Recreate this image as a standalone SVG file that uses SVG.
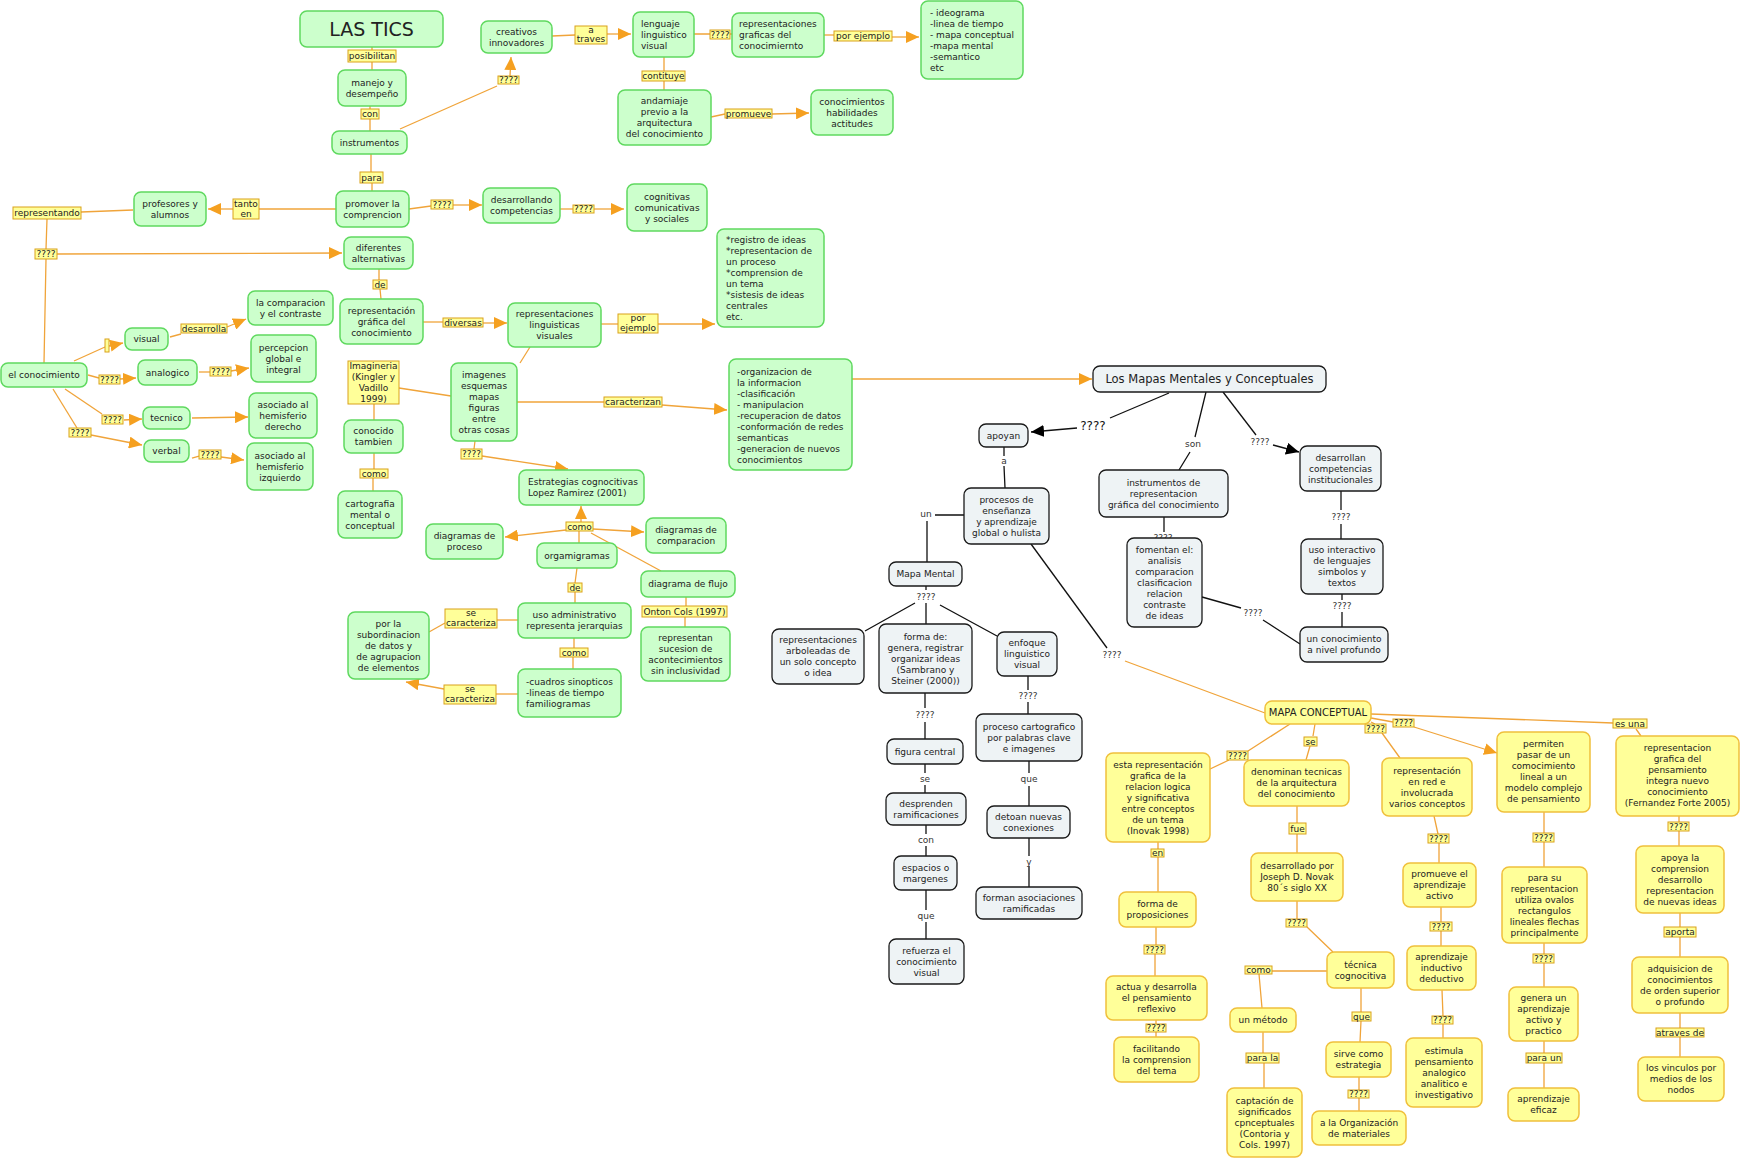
<svg xmlns="http://www.w3.org/2000/svg" width="1742" height="1159" viewBox="0 0 1742 1159">
<style>
.t{font-family:"DejaVu Sans",Verdana,sans-serif;font-size:9px;fill:#222;text-anchor:middle}
.tl{text-anchor:start}
.ng rect{fill:#ccffcc;stroke:#5fd95f;stroke-width:1.5}
.ny rect{fill:#ffff99;stroke:#f0c03c;stroke-width:1.5}
.nk rect{fill:#eef3f5;stroke:#1a1a1a;stroke-width:1.3}
.lb{fill:#ffff99;stroke:#d9a21b;stroke-width:1}
.o{stroke:#f0a43a;stroke-width:1.3;fill:none}
.oa{marker-end:url(#ao)}
.k{stroke:#111;stroke-width:1.3;fill:none}
.ka{marker-end:url(#ak)}
.kt{font-family:"DejaVu Sans",Verdana,sans-serif;font-size:9px;fill:#333;text-anchor:middle}
</style>
<defs>
<marker id="ao" markerUnits="userSpaceOnUse" markerWidth="14" markerHeight="12" refX="13" refY="6" orient="auto"><path d="M0,0 L13,6 L0,12 z" fill="#f5a020"/></marker>
<marker id="ak" markerUnits="userSpaceOnUse" markerWidth="14" markerHeight="12" refX="13" refY="6" orient="auto"><path d="M0,0 L13,6 L0,12 z" fill="#000"/></marker>
</defs>
<rect width="1742" height="1159" fill="#fff"/>

<g id="connectors">
<!-- left orange -->
<path class="o" d="M372,47V50M372,62V70"/>
<path class="o" d="M370,106V110M370,119V131"/>
<path class="o" d="M400,129L497,86"/>
<path class="o oa" d="M510,76L511,57"/>
<path class="o" d="M371,154V172M372,183V191"/>
<path class="o" d="M336,209H259"/>
<path class="o oa" d="M233,209H208"/>
<path class="o" d="M133,210L81,212"/>
<path class="o" d="M47,219L46,249M46,259L44,363"/>
<path class="o oa" d="M57,254L342,253"/>
<path class="o" d="M379,269V280M380,289L381,299"/>
<path class="o" d="M74,361L105,347"/>
<path class="o oa" d="M109,346L123,343"/>
<path class="o" d="M170,337L181,334"/>
<path class="o oa" d="M227,327L246,319"/>
<path class="o" d="M88,375L99,378"/>
<path class="o oa" d="M120,379L136,378"/>
<path class="o" d="M199,372H210"/>
<path class="o oa" d="M231,371L249,368"/>
<path class="o" d="M65,389L102,414"/>
<path class="o oa" d="M124,420L142,419"/>
<path class="o" d="M53,389L77,428"/>
<path class="o oa" d="M91,435L142,445"/>
<path class="o oa" d="M192,418L248,417"/>
<path class="o" d="M192,458L199,456"/>
<path class="o oa" d="M221,457L244,460"/>
<path class="o" d="M374,404V420"/>
<path class="o" d="M374,453V469M373,478V491"/>
<path class="o" d="M399,388L451,396"/>
<path class="o" d="M409,209L431,206"/>
<path class="o oa" d="M453,205H482"/>
<path class="o" d="M560,209H573"/>
<path class="o oa" d="M594,209H624"/>
<path class="o" d="M552,36L575,35"/>
<path class="o oa" d="M607,34H631"/>
<path class="o" d="M694,34H710M730,34H732"/>
<path class="o" d="M824,35H834"/>
<path class="o oa" d="M892,37H919"/>
<path class="o" d="M664,57V71M664,81V90"/>
<path class="o" d="M711,117L725,114"/>
<path class="o oa" d="M772,114L809,113"/>
<path class="o" d="M423,322H443"/>
<path class="o oa" d="M483,323H507"/>
<path class="o" d="M601,324H618"/>
<path class="o oa" d="M658,324H715"/>
<path class="o" d="M530,347L520,363"/>
<path class="o" d="M517,402H604"/>
<path class="o oa" d="M662,405L727,410"/>
<path class="o" d="M475,441L474,449"/>
<path class="o oa" d="M482,456L568,469"/>
<path class="o oa" d="M852,379H1092"/>
<path class="o oa" d="M581,522V506"/>
<path class="o oa" d="M566,530L505,537"/>
<path class="o oa" d="M593,529L644,532"/>
<path class="o" d="M591,533L661,571"/>
<path class="o" d="M579,531V543"/>
<path class="o" d="M577,568L575,583M575,592V603"/>
<path class="o" d="M686,597V606M685,617V627"/>
<path class="o" d="M518,620H497"/>
<path class="o" d="M445,623L429,632"/>
<path class="o" d="M574,638V648M573,657V669"/>
<path class="o" d="M518,694H496"/>
<path class="o oa" d="M444,689L406,682"/>
<!-- black -->
<path class="k" d="M1169,393L1110,418"/>
<path class="k ka" d="M1077,428L1031,432"/>
<text class="t" x="1093" y="430" style="font-size:12px;fill:#111">????</text>
<path class="k" d="M1004,447V456M1004,466L1005,488"/>
<text class="kt" x="1004" y="464">a</text>
<path class="k" d="M964,515H935M927,521V562"/>
<text class="kt" x="926" y="517">un</text>
<path class="k" d="M926,586V590"/>
<text class="kt" x="926" y="600">????</text>
<path class="k" d="M915,603L865,631M926,603V624M940,605L997,636"/>
<path class="k" d="M925,693V708M925,722V739"/>
<text class="kt" x="925" y="718">????</text>
<path class="k" d="M1028,676V690M1028,702V714"/>
<text class="kt" x="1028" y="699">????</text>
<path class="k" d="M925,764V773M925,785V793"/>
<text class="kt" x="925" y="782">se</text>
<path class="k" d="M926,825V834M926,846V856"/>
<text class="kt" x="926" y="843">con</text>
<path class="k" d="M926,890V910M926,922V939"/>
<text class="kt" x="926" y="919">que</text>
<path class="k" d="M1029,761V773M1029,786V806"/>
<text class="kt" x="1029" y="782">que</text>
<path class="k" d="M1029,838V856M1029,866V887"/>
<text class="kt" x="1029" y="865">y</text>
<path class="k" d="M1206,392L1195,437M1190,452L1179,470"/>
<text class="kt" x="1193" y="447">son</text>
<path class="k" d="M1223,392L1256,435"/>
<path class="k ka" d="M1273,445L1299,452"/>
<text class="kt" x="1260" y="445">????</text>
<path class="k" d="M1341,491V510M1341,524V539"/>
<text class="kt" x="1341" y="520">????</text>
<path class="k" d="M1342,594V600M1342,612V627"/>
<text class="kt" x="1342" y="609">????</text>
<path class="k" d="M1164,517V532"/>
<text class="kt" x="1163" y="541">????</text>
<path class="k" d="M1202,597L1241,608M1263,620L1300,644"/>
<text class="kt" x="1253" y="616">????</text>
<path class="k" d="M1031,544L1107,648"/>
<text class="kt" x="1112" y="658">????</text>
<path class="o" d="M1125,661L1265,713"/>
<!-- yellow section -->
<path class="o" d="M1290,724L1248,751M1229,760L1208,770"/>
<path class="o" d="M1315,724L1313,736M1310,746L1306,760"/>
<path class="o" d="M1371,722L1375,724M1382,733L1400,758"/>
<path class="o" d="M1371,718L1393,722"/>
<path class="o oa" d="M1414,727L1497,753"/>
<path class="o" d="M1371,714L1613,723M1636,729L1641,736"/>
<path class="o" d="M1158,842V849M1158,857V892"/>
<path class="o" d="M1156,927V945M1155,954V976"/>
<path class="o" d="M1156,1020V1024M1156,1032V1037"/>
<path class="o" d="M1297,806V823M1297,834V853"/>
<path class="o" d="M1297,901V919M1307,927L1333,952"/>
<path class="o" d="M1327,971H1272M1259,974L1262,1008"/>
<path class="o" d="M1263,1032V1053M1264,1063V1088"/>
<path class="o" d="M1361,988V1012M1361,1021L1360,1042"/>
<path class="o" d="M1359,1077V1090M1359,1098V1111"/>
<path class="o" d="M1434,816L1438,834M1439,843V863"/>
<path class="o" d="M1441,907V922M1441,931V946"/>
<path class="o" d="M1442,990L1443,1016M1443,1024V1038"/>
<path class="o" d="M1544,812V833M1544,842V867"/>
<path class="o" d="M1544,943V954M1544,963V987"/>
<path class="o" d="M1544,1041V1053M1544,1063V1088"/>
<path class="o" d="M1679,816V822M1679,831V846"/>
<path class="o" d="M1680,913V927M1680,937V957"/>
<path class="o" d="M1680,1013V1028M1680,1037V1057"/>
</g>

<g id="labels">
<rect class="lb" x="348" y="50" width="48" height="12"/><text class="t" x="372" y="59.2">posibilitan</text>
<rect class="lb" x="361" y="109" width="18" height="10"/><text class="t" x="370" y="117">con</text>
<rect class="lb" x="360" y="172" width="23" height="11"/><text class="t" x="371.5" y="180.7">para</text>
<rect class="lb" x="233" y="199" width="26" height="20"/><text class="t" x="246" y="206.7">tanto</text><text class="t" x="246" y="216.7">en</text>
<rect class="lb" x="13" y="207" width="68" height="12"/><text class="t" x="47" y="216.2">representando</text>
<rect class="lb" x="35" y="249" width="22" height="10"/><text class="t" x="46" y="257.2">????</text>
<rect class="lb" x="373" y="280" width="14" height="9"/><text class="t" x="380" y="287.7">de</text>
<rect class="lb" x="181" y="324" width="46" height="9"/><text class="t" x="204" y="331.7">desarrolla</text>
<rect class="lb" x="105" y="339" width="4" height="13"/>
<rect class="lb" x="99" y="375" width="21" height="9"/><text class="t" x="109.5" y="382.7">????</text>
<rect class="lb" x="210" y="367" width="21" height="9"/><text class="t" x="220.5" y="374.7">????</text>
<rect class="lb" x="102" y="415" width="21" height="9"/><text class="t" x="112.5" y="422.7">????</text>
<rect class="lb" x="69" y="428" width="22" height="9"/><text class="t" x="80" y="435.7">????</text>
<rect class="lb" x="199" y="450" width="22" height="9"/><text class="t" x="210" y="457.7">????</text>
<rect class="lb" x="360" y="469" width="28" height="9"/><text class="t" x="374" y="476.7">como</text>
<rect class="lb" x="498" y="76" width="21" height="8"/><text class="t" x="508.5" y="83.2">????</text>
<rect class="lb" x="575" y="26" width="32" height="18"/><text class="t" x="591" y="32.7">a</text><text class="t" x="591" y="42.2">traves</text>
<rect class="lb" x="710" y="30" width="20" height="9"/><text class="t" x="720" y="37.7">????</text>
<rect class="lb" x="834" y="31" width="58" height="10"/><text class="t" x="863" y="39.2">por ejemplo</text>
<rect class="lb" x="642" y="71" width="43" height="10"/><text class="t" x="663.5" y="79.2">contituye</text>
<rect class="lb" x="725" y="109" width="47" height="9"/><text class="t" x="748.5" y="116.7">promueve</text>
<rect class="lb" x="431" y="200" width="22" height="9"/><text class="t" x="442" y="207.7">????</text>
<rect class="lb" x="573" y="205" width="21" height="8"/><text class="t" x="583.5" y="212.2">????</text>
<rect class="lb" x="443" y="318" width="40" height="9"/><text class="t" x="463" y="325.7">diversas</text>
<rect class="lb" x="618" y="314" width="40" height="19"/><text class="t" x="638" y="320.7">por</text><text class="t" x="638" y="331">ejemplo</text>
<rect class="lb" x="604" y="397" width="58" height="10"/><text class="t" x="633" y="405.2">caracterizan</text>
<rect class="lb" x="461" y="449" width="21" height="10"/><text class="t" x="471.5" y="457.2">????</text>
<rect class="lb" x="566" y="522" width="27" height="9"/><text class="t" x="579.5" y="529.7">como</text>
<rect class="lb" x="568" y="583" width="14" height="9"/><text class="t" x="575" y="590.7">de</text>
<rect class="lb" x="642" y="606" width="85" height="11"/><text class="t" x="684.5" y="614.7">Onton Cols (1997)</text>
<rect class="lb" x="445" y="609" width="52" height="19"/><text class="t" x="471" y="616">se</text><text class="t" x="471" y="626">caracteriza</text>
<rect class="lb" x="560" y="648" width="28" height="9"/><text class="t" x="574" y="655.7">como</text>
<rect class="lb" x="444" y="685" width="52" height="19"/><text class="t" x="470" y="692">se</text><text class="t" x="470" y="702">caracteriza</text>
<rect class="lb" x="1227" y="751" width="21" height="9"/><text class="t" x="1237.5" y="758.7">????</text>
<rect class="lb" x="1304" y="737" width="13" height="9"/><text class="t" x="1310.5" y="744.7">se</text>
<rect class="lb" x="1365" y="724" width="21" height="9"/><text class="t" x="1375.5" y="731.7">????</text>
<rect class="lb" x="1393" y="719" width="21" height="8"/><text class="t" x="1403.5" y="726.2">????</text>
<rect class="lb" x="1613" y="719" width="34" height="9"/><text class="t" x="1630" y="726.7">es una</text>
<rect class="lb" x="1151" y="849" width="13" height="8"/><text class="t" x="1157.5" y="856.2">en</text>
<rect class="lb" x="1144" y="945" width="21" height="9"/><text class="t" x="1154.5" y="952.7">????</text>
<rect class="lb" x="1146" y="1024" width="20" height="8"/><text class="t" x="1156" y="1031.2">????</text>
<rect class="lb" x="1289" y="823" width="17" height="11"/><text class="t" x="1297.5" y="831.7">fue</text>
<rect class="lb" x="1286" y="919" width="21" height="8"/><text class="t" x="1296.5" y="926.2">????</text>
<rect class="lb" x="1245" y="966" width="27" height="8"/><text class="t" x="1258.5" y="973.2">como</text>
<rect class="lb" x="1246" y="1053" width="33" height="10"/><text class="t" x="1262.5" y="1061.2">para la</text>
<rect class="lb" x="1352" y="1012" width="19" height="9"/><text class="t" x="1361.5" y="1019.7">que</text>
<rect class="lb" x="1348" y="1090" width="21" height="8"/><text class="t" x="1358.5" y="1097.2">????</text>
<rect class="lb" x="1428" y="834" width="21" height="9"/><text class="t" x="1438.5" y="841.7">????</text>
<rect class="lb" x="1430" y="922" width="22" height="9"/><text class="t" x="1441" y="929.7">????</text>
<rect class="lb" x="1432" y="1016" width="21" height="8"/><text class="t" x="1442.5" y="1023.2">????</text>
<rect class="lb" x="1533" y="833" width="21" height="9"/><text class="t" x="1543.5" y="840.7">????</text>
<rect class="lb" x="1533" y="954" width="21" height="9"/><text class="t" x="1543.5" y="961.7">????</text>
<rect class="lb" x="1526" y="1053" width="36" height="10"/><text class="t" x="1544" y="1061.2">para un</text>
<rect class="lb" x="1668" y="822" width="21" height="9"/><text class="t" x="1678.5" y="829.7">????</text>
<rect class="lb" x="1664" y="927" width="32" height="10"/><text class="t" x="1680" y="935.2">aporta</text>
<rect class="lb" x="1656" y="1028" width="48" height="9"/><text class="t" x="1680" y="1035.7">atraves de</text>
</g>

<g id="n-lastics" class="ng"><rect x="300" y="11" width="143" height="36" rx="7"/><text class="t" x="371.5" y="36" style="font-size:19px">LAS TICS</text></g>
<g id="n-manejo" class="ng"><rect x="338" y="70" width="68" height="36" rx="7"/><text class="t" x="372"><tspan x="372" y="85.7">manejo y</tspan><tspan x="372" y="96.7">desempeño</tspan></text></g>
<g id="n-instrumentos" class="ng"><rect x="332" y="131" width="75" height="23" rx="7"/><text class="t" x="369.5" y="145.7">instrumentos</text></g>
<g id="n-promover" class="ng"><rect x="336" y="191" width="73" height="36" rx="7"/><text class="t"><tspan x="372.5" y="206.7">promover la</tspan><tspan x="372.5" y="217.7">comprencion</tspan></text></g>
<g id="n-profesores" class="ng"><rect x="134" y="192" width="72" height="34" rx="7"/><text class="t"><tspan x="170" y="206.7">profesores y</tspan><tspan x="170" y="217.7">alumnos</tspan></text></g>
<g id="n-diferentes" class="ng"><rect x="344" y="237" width="69" height="32" rx="7"/><text class="t"><tspan x="378.5" y="250.7">diferentes</tspan><tspan x="378.5" y="261.7">alternativas</tspan></text></g>
<g id="n-repgraf" class="ng"><rect x="340" y="299" width="83" height="45" rx="7"/><text class="t"><tspan x="381.5" y="313.7">representación</tspan><tspan x="381.5" y="324.7">gráfica del</tspan><tspan x="381.5" y="335.7">conocimiento</tspan></text></g>
<g id="n-comparacion" class="ng"><rect x="248" y="291" width="85" height="34" rx="7"/><text class="t"><tspan x="290.5" y="305.7">la comparacion</tspan><tspan x="290.5" y="316.7">y el contraste</tspan></text></g>
<g id="n-visual" class="ng"><rect x="125" y="328" width="43" height="22" rx="7"/><text class="t" x="146.5" y="342.2">visual</text></g>
<g id="n-elcon" class="ng"><rect x="1" y="363" width="86" height="24" rx="7"/><text class="t" x="44" y="378.2">el conocimiento</text></g>
<g id="n-analogico" class="ng"><rect x="138" y="360" width="59" height="25" rx="7"/><text class="t" x="167.5" y="375.7">analogico</text></g>
<g id="n-percepcion" class="ng"><rect x="251" y="335" width="65" height="47" rx="7"/><text class="t"><tspan x="283.5" y="350.7">percepcion</tspan><tspan x="283.5" y="361.7">global e</tspan><tspan x="283.5" y="372.7">integral</tspan></text></g>
<g id="n-tecnico" class="ng"><rect x="143" y="407" width="47" height="22" rx="7"/><text class="t" x="166.5" y="421.2">tecnico</text></g>
<g id="n-derecho" class="ng"><rect x="249" y="393" width="68" height="45" rx="7"/><text class="t"><tspan x="283" y="407.7">asociado al</tspan><tspan x="283" y="418.7">hemisferio</tspan><tspan x="283" y="429.7">derecho</tspan></text></g>
<g id="n-verbal" class="ng"><rect x="144" y="440" width="45" height="22" rx="7"/><text class="t" x="166.5" y="454.2">verbal</text></g>
<g id="n-izquierdo" class="ng"><rect x="247" y="443" width="66" height="47" rx="7"/><text class="t"><tspan x="280" y="458.7">asociado al</tspan><tspan x="280" y="469.7">hemisferio</tspan><tspan x="280" y="480.7">izquierdo</tspan></text></g>
<g id="n-imagineria"><rect x="348" y="361" width="51" height="43" fill="#ffff99" stroke="#d9a21b" stroke-width="1"/><text class="t"><tspan x="373.5" y="369.2">Imagineria</tspan><tspan x="373.5" y="380.2">(Kingler y</tspan><tspan x="373.5" y="391.2">Vadillo</tspan><tspan x="373.5" y="402.2">1999)</tspan></text></g>
<g id="n-conocido" class="ng"><rect x="344" y="420" width="59" height="33" rx="7"/><text class="t"><tspan x="373.5" y="434.2">conocido</tspan><tspan x="373.5" y="445.2">tambien</tspan></text></g>
<g id="n-cartografia" class="ng"><rect x="338" y="491" width="64" height="47" rx="7"/><text class="t"><tspan x="370" y="506.7">cartografia</tspan><tspan x="370" y="517.7">mental o</tspan><tspan x="370" y="528.7">conceptual</tspan></text></g>
<g id="n-creativos" class="ng"><rect x="481" y="21" width="71" height="32" rx="7"/><text class="t"><tspan x="516.5" y="34.7">creativos</tspan><tspan x="516.5" y="45.7">innovadores</tspan></text></g>
<g id="n-lenguaje" class="ng"><rect x="633" y="12" width="61" height="45" rx="7"/><text class="t tl"><tspan x="641" y="26.7">lenguaje</tspan><tspan x="641" y="37.7">linguistico</tspan><tspan x="641" y="48.7">visual</tspan></text></g>
<g id="n-repgraficas" class="ng"><rect x="732" y="13" width="92" height="44" rx="7"/><text class="t tl"><tspan x="739" y="27.2">representaciones</tspan><tspan x="739" y="38.2">graficas del</tspan><tspan x="739" y="49.2">conocimiernto</tspan></text></g>
<g id="n-ideograma" class="ng"><rect x="921" y="1" width="102" height="78" rx="7"/><text class="t tl"><tspan x="930" y="16">- ideograma</tspan><tspan x="930" y="27">-linea de tiempo</tspan><tspan x="930" y="38">- mapa conceptual</tspan><tspan x="930" y="49">-mapa mental</tspan><tspan x="930" y="60">-semantico</tspan><tspan x="930" y="71">etc</tspan></text></g>
<g id="n-andamiaje" class="ng"><rect x="618" y="90" width="93" height="55" rx="7"/><text class="t"><tspan x="664.5" y="104.2">andamiaje</tspan><tspan x="664.5" y="115.2">previo a la</tspan><tspan x="664.5" y="126.2">arquitectura</tspan><tspan x="664.5" y="137.2">del conocimiento</tspan></text></g>
<g id="n-conhab" class="ng"><rect x="811" y="90" width="82" height="45" rx="7"/><text class="t"><tspan x="852" y="104.7">conocimientos</tspan><tspan x="852" y="115.7">habilidades</tspan><tspan x="852" y="126.7">actitudes</tspan></text></g>
<g id="n-desarrollando" class="ng"><rect x="483" y="188" width="77" height="35" rx="7"/><text class="t"><tspan x="521.5" y="203.2">desarrollando</tspan><tspan x="521.5" y="214.2">competencias</tspan></text></g>
<g id="n-cognitivas" class="ng"><rect x="627" y="184" width="80" height="47" rx="7"/><text class="t"><tspan x="667" y="199.7">cognitivas</tspan><tspan x="667" y="210.7">comunicativas</tspan><tspan x="667" y="221.7">y sociales</tspan></text></g>
<g id="n-registro" class="ng"><rect x="717" y="229" width="107" height="98" rx="7"/><text class="t tl"><tspan x="726" y="242.5">*registro de ideas</tspan><tspan x="726" y="253.5">*representacion de</tspan><tspan x="726" y="264.5">un  proceso</tspan><tspan x="726" y="275.5">*comprension de</tspan><tspan x="726" y="286.5">un tema</tspan><tspan x="726" y="297.5">*sistesis de ideas</tspan><tspan x="726" y="308.5">centrales</tspan><tspan x="726" y="319.5">etc.</tspan></text></g>
<g id="n-replinguisticas" class="ng"><rect x="508" y="303" width="93" height="44" rx="7"/><text class="t"><tspan x="554.5" y="317.2">representaciones</tspan><tspan x="554.5" y="328.2">linguisticas</tspan><tspan x="554.5" y="339.2">visuales</tspan></text></g>
<g id="n-imagenes" class="ng"><rect x="451" y="363" width="66" height="78" rx="7"/><text class="t"><tspan x="484" y="377.5">imagenes</tspan><tspan x="484" y="388.5">esquemas</tspan><tspan x="484" y="399.5">mapas</tspan><tspan x="484" y="410.5">figuras</tspan><tspan x="484" y="421.5">entre</tspan><tspan x="484" y="432.5">otras cosas</tspan></text></g>
<g id="n-organizacion" class="ng"><rect x="729" y="359" width="123" height="111" rx="7"/><text class="t tl"><tspan x="737" y="375">-organizacion de</tspan><tspan x="737" y="386">la informacion</tspan><tspan x="737" y="397">-clasificación</tspan><tspan x="737" y="408">- manipulacion</tspan><tspan x="737" y="419">-recuperacion de datos</tspan><tspan x="737" y="430">-conformación de redes</tspan><tspan x="737" y="441">semanticas</tspan><tspan x="737" y="452">-generacion de nuevos</tspan><tspan x="737" y="463">conocimientos</tspan></text></g>
<g id="n-estrategias" class="ng"><rect x="519" y="470" width="125" height="35" rx="7"/><text class="t tl"><tspan x="528" y="485.2">Estrategias cognocitivas</tspan><tspan x="528" y="496.2">Lopez Ramirez (2001)</tspan></text></g>
<g id="n-dproceso" class="ng"><rect x="426" y="524" width="77" height="35" rx="7"/><text class="t"><tspan x="464.5" y="539.2">diagramas de</tspan><tspan x="464.5" y="550.2">proceso</tspan></text></g>
<g id="n-organigramas" class="ng"><rect x="537" y="543" width="80" height="25" rx="7"/><text class="t" x="577" y="558.7">orgamigramas</text></g>
<g id="n-dcomparacion" class="ng"><rect x="646" y="518" width="80" height="35" rx="7"/><text class="t"><tspan x="686" y="533.2">diagramas de</tspan><tspan x="686" y="544.2">comparacion</tspan></text></g>
<g id="n-dflujo" class="ng"><rect x="641" y="571" width="94" height="26" rx="7"/><text class="t" x="688" y="587.2">diagrama de flujo</text></g>
<g id="n-usoadmin" class="ng"><rect x="518" y="603" width="113" height="35" rx="7"/><text class="t"><tspan x="574.5" y="618.2">uso administrativo</tspan><tspan x="574.5" y="629.2">representa jerarquias</tspan></text></g>
<g id="n-sucesion" class="ng"><rect x="641" y="627" width="89" height="54" rx="7"/><text class="t"><tspan x="685.5" y="640.7">representan</tspan><tspan x="685.5" y="651.7">sucesion de</tspan><tspan x="685.5" y="662.7">acontecimientos</tspan><tspan x="685.5" y="673.7">sin inclusividad</tspan></text></g>
<g id="n-subordinacion" class="ng"><rect x="348" y="612" width="81" height="67" rx="7"/><text class="t"><tspan x="388.5" y="626.7">por la</tspan><tspan x="388.5" y="637.7">subordinacion</tspan><tspan x="388.5" y="648.7">de datos y</tspan><tspan x="388.5" y="659.7">de agrupacion</tspan><tspan x="388.5" y="670.7">de elementos</tspan></text></g>
<g id="n-cuadros" class="ng"><rect x="518" y="669" width="103" height="48" rx="7"/><text class="t tl"><tspan x="526" y="685.2">-cuadros sinopticos</tspan><tspan x="526" y="696.2">-lineas de tiempo</tspan><tspan x="526" y="707.2">familiogramas</tspan></text></g>

<g id="n-losmapas" class="nk"><rect x="1093" y="366" width="233" height="26" rx="7"/><text class="t" x="1209.5" y="383" style="font-size:11.5px">Los Mapas Mentales y Conceptuales</text></g>
<g id="n-apoyan" class="nk"><rect x="979" y="424" width="49" height="23" rx="7"/><text class="t" x="1003.5" y="438.7">apoyan</text></g>
<g id="n-procesos" class="nk"><rect x="964" y="488" width="85" height="56" rx="7"/><text class="t"><tspan x="1006.5" y="502.7">procesos de</tspan><tspan x="1006.5" y="513.7">enseñanza</tspan><tspan x="1006.5" y="524.7">y aprendizaje</tspan><tspan x="1006.5" y="535.7">global o hulista</tspan></text></g>
<g id="n-mapamental" class="nk"><rect x="889" y="562" width="73" height="24" rx="7"/><text class="t" x="925.5" y="577.2">Mapa Mental</text></g>
<g id="n-arboleadas" class="nk"><rect x="772" y="629" width="92" height="55" rx="7"/><text class="t"><tspan x="818" y="643.2">representaciones</tspan><tspan x="818" y="654.2">arboleadas de</tspan><tspan x="818" y="665.2">un solo concepto</tspan><tspan x="818" y="676.2">o idea</tspan></text></g>
<g id="n-formade" class="nk"><rect x="879" y="624" width="93" height="69" rx="7"/><text class="t"><tspan x="925.5" y="639.7">forma de:</tspan><tspan x="925.5" y="650.7">genera, registrar</tspan><tspan x="925.5" y="661.7">organizar ideas</tspan><tspan x="925.5" y="672.7">(Sambrano y</tspan><tspan x="925.5" y="683.7">Steiner (2000))</tspan></text></g>
<g id="n-enfoque" class="nk"><rect x="997" y="632" width="60" height="44" rx="7"/><text class="t"><tspan x="1027" y="646.2">enfoque</tspan><tspan x="1027" y="657.2">linguistico</tspan><tspan x="1027" y="668.2">visual</tspan></text></g>
<g id="n-figura" class="nk"><rect x="887" y="739" width="76" height="25" rx="7"/><text class="t" x="925" y="754.7">figura central</text></g>
<g id="n-cartografico" class="nk"><rect x="976" y="714" width="106" height="47" rx="7"/><text class="t"><tspan x="1029" y="729.7">proceso cartografico</tspan><tspan x="1029" y="740.7">por palabras clave</tspan><tspan x="1029" y="751.7">e imagenes</tspan></text></g>
<g id="n-desprenden" class="nk"><rect x="886" y="793" width="80" height="32" rx="7"/><text class="t"><tspan x="926" y="806.7">desprenden</tspan><tspan x="926" y="817.7">ramificaciones</tspan></text></g>
<g id="n-espacios" class="nk"><rect x="894" y="856" width="63" height="34" rx="7"/><text class="t"><tspan x="925.5" y="870.7">espacios o</tspan><tspan x="925.5" y="881.7">margenes</tspan></text></g>
<g id="n-refuerza" class="nk"><rect x="889" y="939" width="75" height="45" rx="7"/><text class="t"><tspan x="926.5" y="953.7">refuerza el</tspan><tspan x="926.5" y="964.7">conocimiento</tspan><tspan x="926.5" y="975.7">visual</tspan></text></g>
<g id="n-detoan" class="nk"><rect x="987" y="806" width="83" height="32" rx="7"/><text class="t"><tspan x="1028.5" y="819.7">detoan nuevas</tspan><tspan x="1028.5" y="830.7">conexiones</tspan></text></g>
<g id="n-forman" class="nk"><rect x="976" y="887" width="106" height="32" rx="7"/><text class="t"><tspan x="1029" y="900.7">forman asociaciones</tspan><tspan x="1029" y="911.7">ramificadas</tspan></text></g>
<g id="n-instrep" class="nk"><rect x="1099" y="470" width="129" height="47" rx="7"/><text class="t"><tspan x="1163.5" y="485.7">instrumentos de</tspan><tspan x="1163.5" y="496.7">representacion</tspan><tspan x="1163.5" y="507.7">gráfica del conocimiento</tspan></text></g>
<g id="n-fomentan" class="nk"><rect x="1127" y="538" width="75" height="89" rx="7"/><text class="t"><tspan x="1164.5" y="552.7">fomentan el:</tspan><tspan x="1164.5" y="563.7">analisis</tspan><tspan x="1164.5" y="574.7">comparacion</tspan><tspan x="1164.5" y="585.7">clasificacion</tspan><tspan x="1164.5" y="596.7">relacion</tspan><tspan x="1164.5" y="607.7">contraste</tspan><tspan x="1164.5" y="618.7">de ideas</tspan></text></g>
<g id="n-desarrollan" class="nk"><rect x="1300" y="446" width="81" height="45" rx="7"/><text class="t"><tspan x="1340.5" y="460.7">desarrollan</tspan><tspan x="1340.5" y="471.7">competencias</tspan><tspan x="1340.5" y="482.7">institucionales</tspan></text></g>
<g id="n-usointer" class="nk"><rect x="1301" y="539" width="82" height="55" rx="7"/><text class="t"><tspan x="1342" y="553.2">uso interactivo</tspan><tspan x="1342" y="564.2">de lenguajes</tspan><tspan x="1342" y="575.2">simbolos y</tspan><tspan x="1342" y="586.2">textos</tspan></text></g>
<g id="n-unconoc" class="nk"><rect x="1300" y="627" width="88" height="35" rx="7"/><text class="t"><tspan x="1344" y="642.2">un conocimiento</tspan><tspan x="1344" y="653.2">a nivel profundo</tspan></text></g>

<g id="n-mapaconc" class="ny"><rect x="1265" y="701" width="106" height="23" rx="7"/><text class="t" x="1318" y="716" style="font-size:10px">MAPA CONCEPTUAL</text></g>
<g id="n-esta" class="ny"><rect x="1106" y="753" width="104" height="89" rx="7"/><text class="t"><tspan x="1158" y="767.7">esta representación</tspan><tspan x="1158" y="778.7">grafica de la</tspan><tspan x="1158" y="789.7">relacion logica</tspan><tspan x="1158" y="800.7">y significativa</tspan><tspan x="1158" y="811.7">entre conceptos</tspan><tspan x="1158" y="822.7">de un tema</tspan><tspan x="1158" y="833.7">(Inovak 1998)</tspan></text></g>
<g id="n-denominan" class="ny"><rect x="1244" y="760" width="105" height="46" rx="7"/><text class="t"><tspan x="1296.5" y="775.2">denominan tecnicas</tspan><tspan x="1296.5" y="786.2">de la arquitectura</tspan><tspan x="1296.5" y="797.2">del conocimiento</tspan></text></g>
<g id="n-fproposiciones" class="ny"><rect x="1119" y="892" width="77" height="35" rx="7"/><text class="t"><tspan x="1157.5" y="907.2">forma de</tspan><tspan x="1157.5" y="918.2">proposiciones</tspan></text></g>
<g id="n-actua" class="ny"><rect x="1106" y="976" width="101" height="44" rx="7"/><text class="t"><tspan x="1156.5" y="990.2">actua y desarrolla</tspan><tspan x="1156.5" y="1001.2">el pensamiento</tspan><tspan x="1156.5" y="1012.2">reflexivo</tspan></text></g>
<g id="n-facilitando" class="ny"><rect x="1114" y="1037" width="85" height="45" rx="7"/><text class="t"><tspan x="1156.5" y="1051.7">facilitando</tspan><tspan x="1156.5" y="1062.7">la comprension</tspan><tspan x="1156.5" y="1073.7">del tema</tspan></text></g>
<g id="n-desarrollado" class="ny"><rect x="1251" y="853" width="92" height="48" rx="7"/><text class="t"><tspan x="1297" y="869.2">desarrollado por</tspan><tspan x="1297" y="880.2">Joseph D. Novak</tspan><tspan x="1297" y="891.2">80´s siglo XX</tspan></text></g>
<g id="n-tecnica" class="ny"><rect x="1327" y="952" width="67" height="36" rx="7"/><text class="t"><tspan x="1360.5" y="967.7">técnica</tspan><tspan x="1360.5" y="978.7">cognocitiva</tspan></text></g>
<g id="n-unmetodo" class="ny"><rect x="1230" y="1008" width="66" height="24" rx="7"/><text class="t" x="1263" y="1023.2">un método</text></g>
<g id="n-captacion" class="ny"><rect x="1227" y="1088" width="75" height="69" rx="7"/><text class="t"><tspan x="1264.5" y="1103.7">captación de</tspan><tspan x="1264.5" y="1114.7">significados</tspan><tspan x="1264.5" y="1125.7">cpnceptuales</tspan><tspan x="1264.5" y="1136.7">(Contoria y</tspan><tspan x="1264.5" y="1147.7">Cols. 1997)</tspan></text></g>
<g id="n-sirve" class="ny"><rect x="1326" y="1042" width="65" height="35" rx="7"/><text class="t"><tspan x="1358.5" y="1057.2">sirve como</tspan><tspan x="1358.5" y="1068.2">estrategia</tspan></text></g>
<g id="n-orgmat" class="ny"><rect x="1312" y="1111" width="94" height="34" rx="7"/><text class="t"><tspan x="1359" y="1125.7">a la Organización</tspan><tspan x="1359" y="1136.7">de materiales</tspan></text></g>
<g id="n-enred" class="ny"><rect x="1382" y="758" width="90" height="58" rx="7"/><text class="t"><tspan x="1427" y="773.7">representación</tspan><tspan x="1427" y="784.7">en red e</tspan><tspan x="1427" y="795.7">involucrada</tspan><tspan x="1427" y="806.7">varios conceptos</tspan></text></g>
<g id="n-promueveact" class="ny"><rect x="1403" y="863" width="73" height="44" rx="7"/><text class="t"><tspan x="1439.5" y="877.2">promueve el</tspan><tspan x="1439.5" y="888.2">aprendizaje</tspan><tspan x="1439.5" y="899.2">activo</tspan></text></g>
<g id="n-inductivo" class="ny"><rect x="1407" y="946" width="69" height="44" rx="7"/><text class="t"><tspan x="1441.5" y="960.2">aprendizaje</tspan><tspan x="1441.5" y="971.2">inductivo</tspan><tspan x="1441.5" y="982.2">deductivo</tspan></text></g>
<g id="n-estimula" class="ny"><rect x="1406" y="1038" width="76" height="69" rx="7"/><text class="t"><tspan x="1444" y="1053.7">estimula</tspan><tspan x="1444" y="1064.7">pensamiento</tspan><tspan x="1444" y="1075.7">analogico</tspan><tspan x="1444" y="1086.7">analitico e</tspan><tspan x="1444" y="1097.7">investigativo</tspan></text></g>
<g id="n-permiten" class="ny"><rect x="1497" y="732" width="93" height="80" rx="7"/><text class="t"><tspan x="1543.5" y="746.7">permiten</tspan><tspan x="1543.5" y="757.7">pasar de un</tspan><tspan x="1543.5" y="768.7">comocimiento</tspan><tspan x="1543.5" y="779.7">lineal a un</tspan><tspan x="1543.5" y="790.7">modelo complejo</tspan><tspan x="1543.5" y="801.7">de pensamiento</tspan></text></g>
<g id="n-parasu" class="ny"><rect x="1502" y="867" width="85" height="76" rx="7"/><text class="t"><tspan x="1544.5" y="880.7">para su</tspan><tspan x="1544.5" y="891.7">representacion</tspan><tspan x="1544.5" y="902.7">utiliza ovalos</tspan><tspan x="1544.5" y="913.7">rectangulos</tspan><tspan x="1544.5" y="924.7">lineales flechas</tspan><tspan x="1544.5" y="935.7">principalmente</tspan></text></g>
<g id="n-generaun" class="ny"><rect x="1509" y="987" width="69" height="54" rx="7"/><text class="t"><tspan x="1543.5" y="1000.7">genera un</tspan><tspan x="1543.5" y="1011.7">aprendizaje</tspan><tspan x="1543.5" y="1022.7">activo y</tspan><tspan x="1543.5" y="1033.7">practico</tspan></text></g>
<g id="n-eficaz" class="ny"><rect x="1508" y="1088" width="71" height="33" rx="7"/><text class="t"><tspan x="1543.5" y="1102.2">aprendizaje</tspan><tspan x="1543.5" y="1113.2">eficaz</tspan></text></g>
<g id="n-repgrafpens" class="ny"><rect x="1616" y="736" width="123" height="80" rx="7"/><text class="t"><tspan x="1677.5" y="750.7">representacion</tspan><tspan x="1677.5" y="761.7">grafica del</tspan><tspan x="1677.5" y="772.7">pensamiento</tspan><tspan x="1677.5" y="783.7">integra nuevo</tspan><tspan x="1677.5" y="794.7">conocimiento</tspan><tspan x="1677.5" y="805.7">(Fernandez Forte 2005)</tspan></text></g>
<g id="n-apoyala" class="ny"><rect x="1636" y="846" width="88" height="67" rx="7"/><text class="t"><tspan x="1680" y="860.7">apoya la</tspan><tspan x="1680" y="871.7">comprension</tspan><tspan x="1680" y="882.7">desarrollo</tspan><tspan x="1680" y="893.7">representacion</tspan><tspan x="1680" y="904.7">de nuevas ideas</tspan></text></g>
<g id="n-adquisicion" class="ny"><rect x="1632" y="957" width="96" height="56" rx="7"/><text class="t"><tspan x="1680" y="971.7">adquisicion de</tspan><tspan x="1680" y="982.7">conocimientos</tspan><tspan x="1680" y="993.7">de orden superior</tspan><tspan x="1680" y="1004.7">o profundo</tspan></text></g>
<g id="n-vinculos" class="ny"><rect x="1638" y="1057" width="86" height="44" rx="7"/><text class="t"><tspan x="1681" y="1071.2">los vinculos por</tspan><tspan x="1681" y="1082.2">medios de los</tspan><tspan x="1681" y="1093.2">nodos</tspan></text></g>
</svg>
